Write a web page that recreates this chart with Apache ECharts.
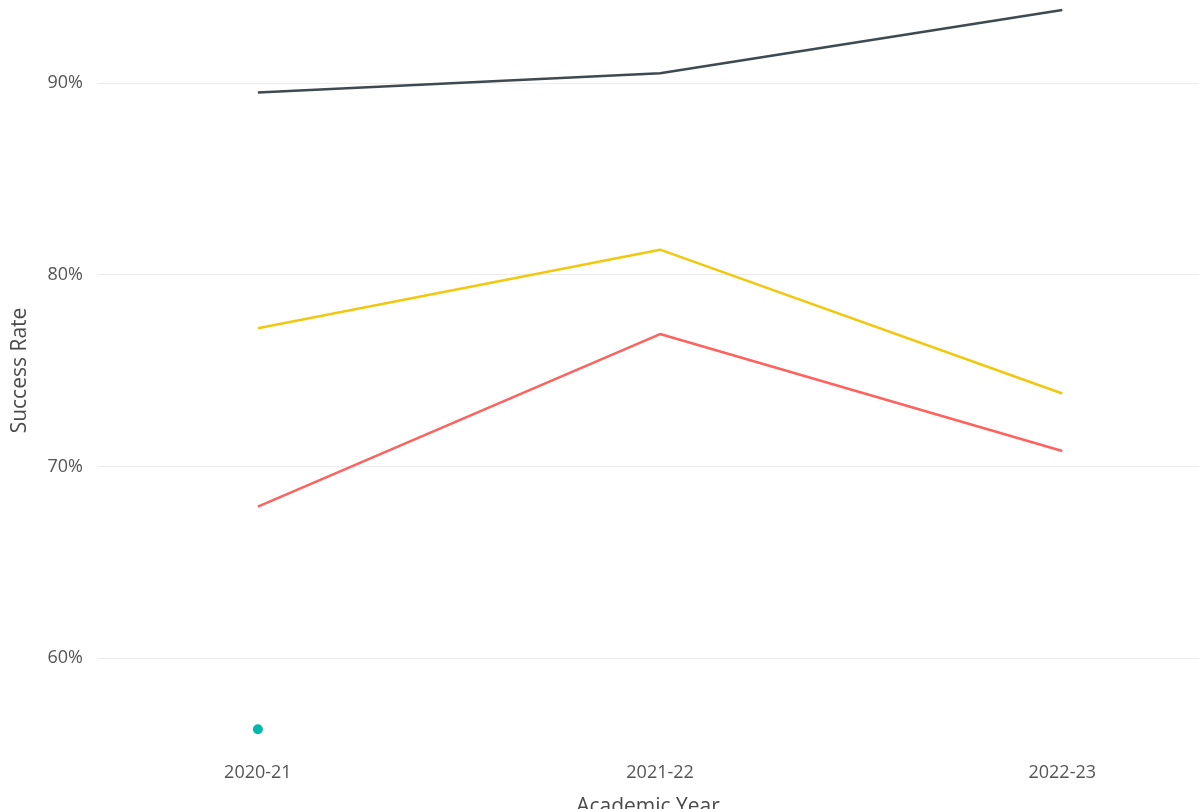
<!DOCTYPE html>
<html>
<head>
<meta charset="utf-8">
<script src="https://cdn.jsdelivr.net/npm/echarts@6/dist/echarts.min.js"></script>
<style>
  html, body { margin: 0; padding: 0; background: #ffffff; }
  #chart { width: 1199px; height: 809px; }
</style>
</head>
<body>
<div id="chart"></div>
<script>
// Academic years shown on the x axis
const years = ['2020-21', '2021-22', '2022-23'];

// Success rates (%) per academic year
const overallRate = [89.5, 90.5, 93.8];
const groupYellowRate = [77.2, 81.3, 73.8];
const groupRedRate = [67.9, 76.9, 70.8];
const groupTealRate = [56.3, null, null];

// Y axis ticks
const yTicks = [60, 70, 80, 90];

const font = '"Open Sans", "DejaVu Sans", sans-serif';

function toPoints(values) {
  return values.map((v, i) => [i, v]);
}

const chart = echarts.init(document.getElementById('chart'), null, { renderer: 'canvas' });

chart.setOption({
  backgroundColor: '#ffffff',
  animation: false,
  grid: {
    left: 97, right: 0, top: -109, bottom: -41,
    containLabel: false,
    outerBoundsMode: 'none'
  },
  xAxis: {
    type: 'value',
    min: -0.4,
    max: 2.34,
    offset: -94,
    name: 'Academic Year',
    nameLocation: 'middle',
    nameGap: 41,
    nameTextStyle: { color: '#4a4a4a', fontSize: 21, fontFamily: font },
    axisLine: { show: false },
    axisTick: { show: false },
    splitLine: { show: false },
    axisLabel: {
      customValues: years.map((_, i) => i),
      formatter: v => years[Math.round(v)] || '',
      color: '#555',
      fontSize: 18,
      fontFamily: font,
      margin: 8
    }
  },
  yAxis: {
    type: 'value',
    min: 50,
    max: 100,
    interval: 10,
    name: 'Success Rate',
    nameLocation: 'middle',
    nameGap: 66,
    nameTextStyle: { color: '#4a4a4a', fontSize: 21, fontFamily: font },
    axisLine: { show: false },
    axisTick: { show: false },
    axisLabel: {
      formatter: v => (yTicks.includes(v) ? v + '%' : ''),
      color: '#555',
      fontSize: 18,
      fontFamily: font,
      margin: 14
    },
    splitLine: { show: true, lineStyle: { color: '#ececec', width: 1 } }
  },
  series: [
    {
      name: 'Overall',
      type: 'line',
      data: toPoints(overallRate),
      showSymbol: false,
      lineStyle: { color: '#3d4a52', width: 2.5 },
      itemStyle: { color: '#3d4a52' }
    },
    {
      name: 'Group B',
      type: 'line',
      data: toPoints(groupYellowRate),
      showSymbol: false,
      lineStyle: { color: '#F2C80F', width: 2.5 },
      itemStyle: { color: '#F2C80F' }
    },
    {
      name: 'Group C',
      type: 'line',
      data: toPoints(groupRedRate),
      showSymbol: false,
      lineStyle: { color: '#FD625E', width: 2.5 },
      itemStyle: { color: '#FD625E' }
    },
    {
      name: 'Group D',
      type: 'line',
      data: toPoints(groupTealRate),
      showSymbol: true,
      symbol: 'circle',
      symbolSize: 10,
      lineStyle: { color: '#01B8AA', width: 2.5 },
      itemStyle: { color: '#01B8AA' }
    }
  ]
});
</script>
</body>
</html>
